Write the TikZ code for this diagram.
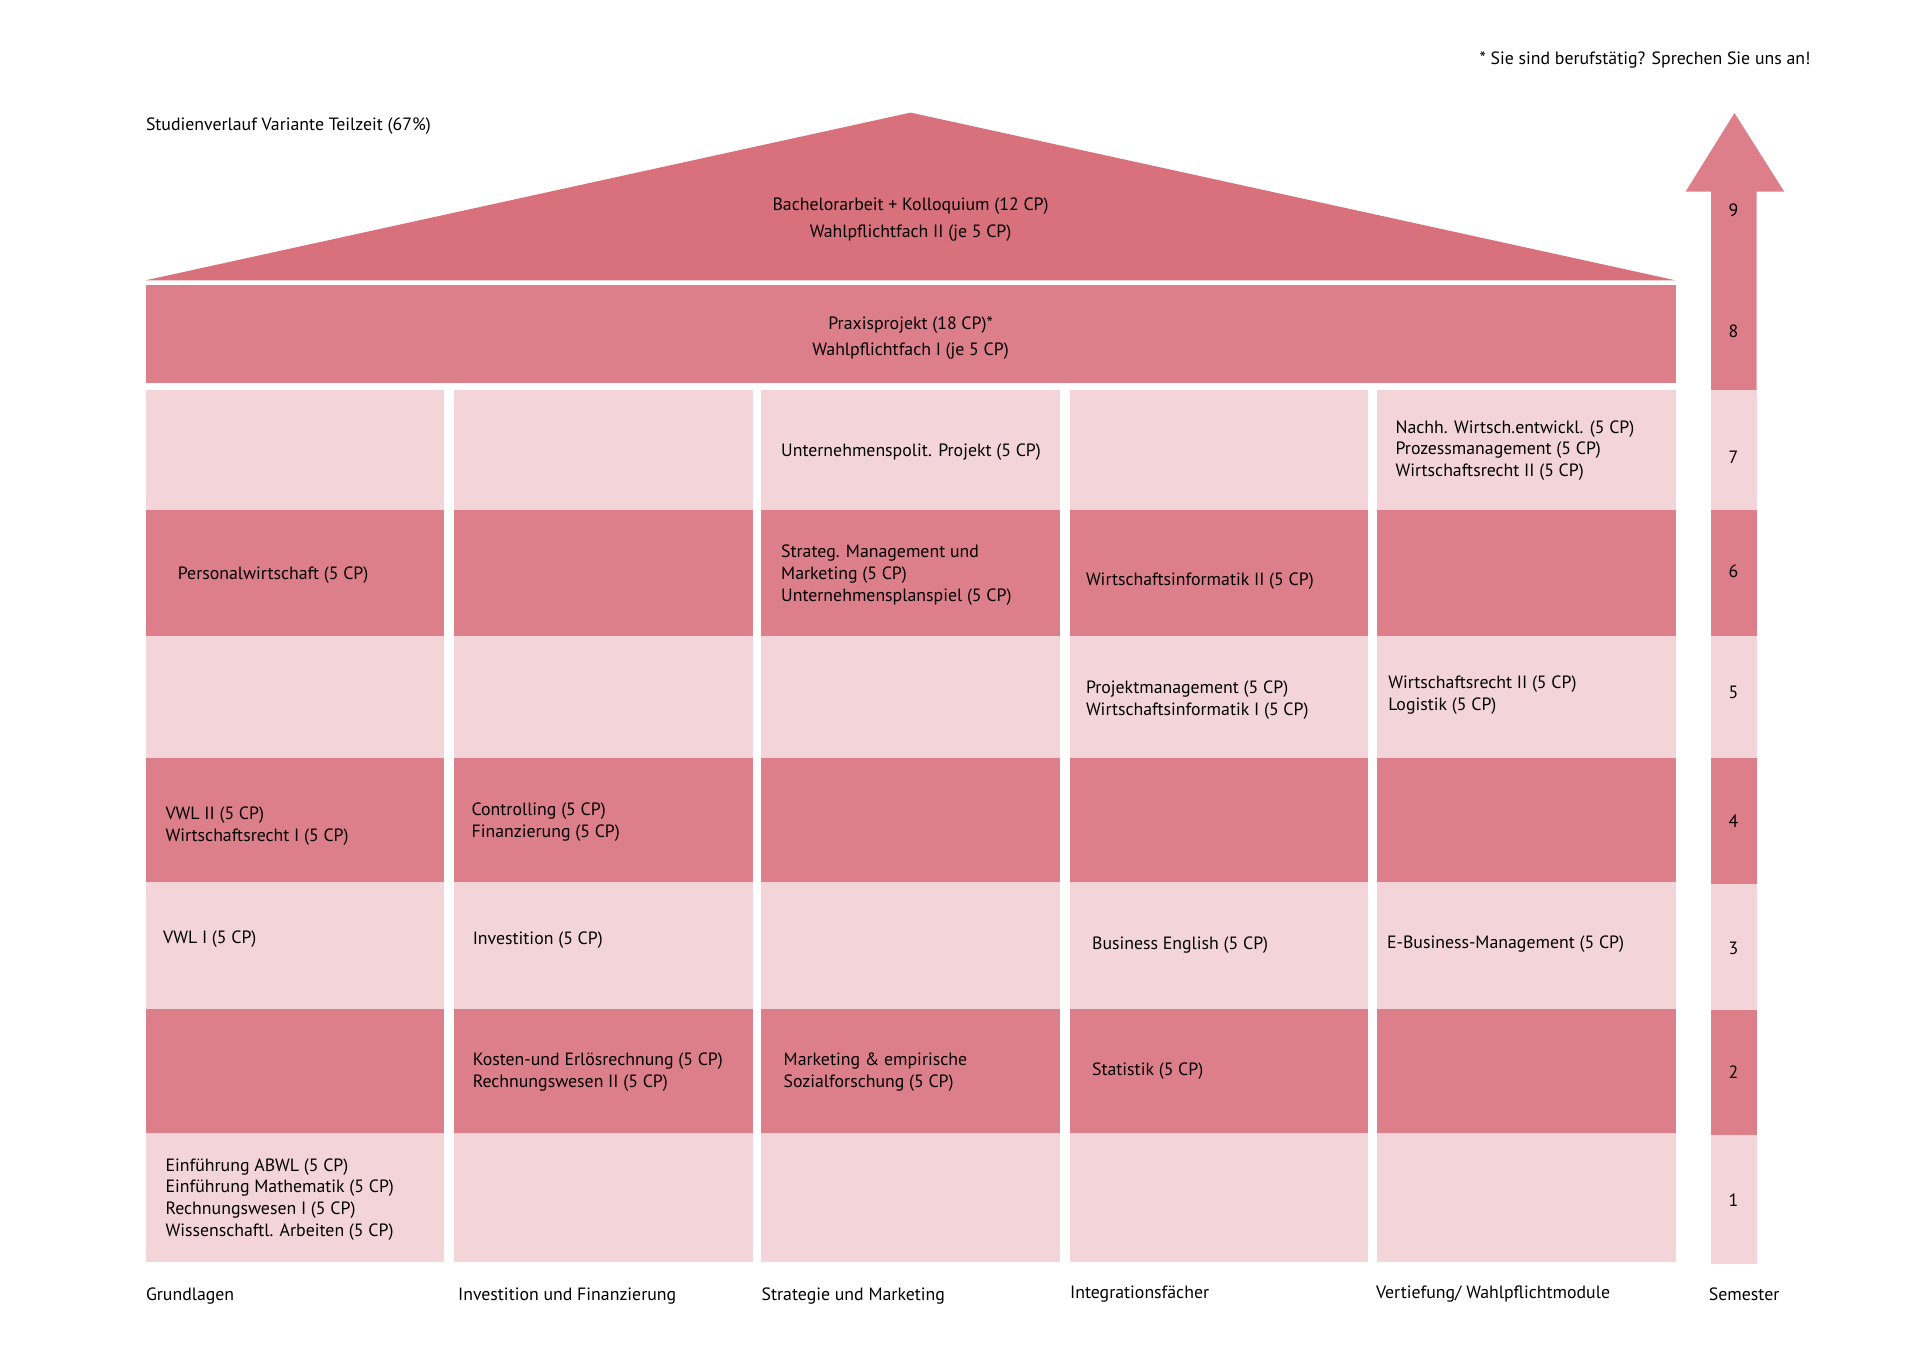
\documentclass[tikz,border=0pt]{standalone}
\usepackage{fontspec}
\setmainfont{PT Sans}
\usepackage{tikz}

\definecolor{roofred}{RGB}{217,113,125}
\definecolor{darkrose}{RGB}{221,127,138}
\definecolor{lightrose}{RGB}{243,213,217}

\begin{document}
\begin{tikzpicture}[x=0.5pt, y=-0.5pt,
    every node/.style={font=\fontsize{8.9}{10.9}\selectfont, inner sep=0pt},
    modtext/.style={anchor=west, align=left},
    darkcell/.style={fill=darkrose},
    lightcell/.style={fill=lightrose},
    semnum/.style={anchor=center}
  ]
  \useasboundingbox (0,0) rectangle (1919,1357);

  % Titel und Fussnote
  \node[anchor=west] (title) at (145.6,126) {Studienverlauf Variante Teilzeit (67\%)};
  \node[anchor=east] (note) at (1811,60) {* Sie sind berufstätig? Sprechen Sie uns an!};

  % Dach und Praxisband
  \fill[roofred] (145.6,280.3) -- (910.6,112.6) -- (1675.5,280.3) -- cycle;
  \fill[darkrose] (145.6,285.2) rectangle (1675.5,383.1);
  \node[align=center] (roof) at (910.6,219.5) {Bachelorarbeit + Kolloquium (12 CP)\\[2.5pt]Wahlpflichtfach II (je 5 CP)};
  \node[align=center] (praxis) at (910.6,338) {Praxisprojekt (18 CP)*\\[2.5pt]Wahlpflichtfach I (je 5 CP)};

  % Raster der Semester 1-7
  \foreach \xl in {145.6,454,761.3,1069.7,1376.9}{
    \foreach \yt/\yb/\st in {390.4/510.4/lightcell,510.4/636.4/darkcell,636.4/757.6/lightcell,
                             757.6/882.4/darkcell,882.4/1008.5/lightcell,1008.5/1133.3/darkcell,
                             1133.3/1261.8/lightcell}{
      \fill[\st] (\xl,\yt) rectangle ++(298.6,\yb-\yt);
    }
  }

  % Semesterpfeil
  \fill[darkrose] (1685.5,191.7) -- (1734.5,113) -- (1784.3,191.7) -- (1756.5,191.7)
    -- (1756.5,390.4) -- (1711,390.4) -- (1711,191.7) -- cycle;
  \foreach \yt/\yb/\st in {390.4/510.4/lightcell,510.4/636.4/darkcell,636.4/757.6/lightcell,
                           757.6/884/darkcell,884/1010/lightcell,1010/1135/darkcell,
                           1135/1264/lightcell}{
    \fill[\st] (1711,\yt) rectangle (1756.5,\yb);
  }
  \foreach \n/\y in {9/210.5,8/331.5,7/457.5,6/571.5,5/692.5,4/821,3/948.5,2/1072,1/1200.5}{
    \node[semnum] (sem\n) at (1733.5,\y) {\n};
  }

  % Module
  \node[modtext] (upol) at (780.8,451.7) {Unternehmenspolit. Projekt (5 CP)};
  \node[modtext] (nachh) at (1395.2,450.5) {Nachh. Wirtsch.entwickl. (5 CP)\\Prozessmanagement (5 CP)\\Wirtschaftsrecht II (5 CP)};
  \node[modtext] (pers) at (177.5,575.3) {Personalwirtschaft (5 CP)};
  \node[modtext] (strat) at (780.8,575.3) {Strateg. Management und\\Marketing (5 CP)\\Unternehmensplanspiel (5 CP)};
  \node[modtext] (winf2) at (1085.6,581.4) {Wirtschaftsinformatik II (5 CP)};
  \node[modtext] (projm) at (1085.6,700.1) {Projektmanagement (5 CP)\\Wirtschaftsinformatik I (5 CP)};
  \node[modtext] (wrecht) at (1387.9,695.2) {Wirtschaftsrecht II (5 CP)\\Logistik (5 CP)};
  \node[modtext] (vwl2) at (165.2,826.2) {VWL II (5 CP)\\Wirtschaftsrecht I (5 CP)};
  \node[modtext] (contr) at (471.2,822.5) {Controlling (5 CP)\\Finanzierung (5 CP)};
  \node[modtext] (vwl1) at (162.8,938.8) {VWL I (5 CP)};
  \node[modtext] (invest) at (472.4,940) {Investition (5 CP)};
  \node[modtext] (benglish) at (1091.7,944.9) {Business English (5 CP)};
  \node[modtext] (ebiz) at (1386.7,943.7) {E-Business-Management (5 CP)};
  \node[modtext] (kosten) at (472.4,1072.2) {Kosten-und Erlösrechnung (5 CP)\\Rechnungswesen II (5 CP)};
  \node[modtext] (mkt) at (783.3,1072.2) {Marketing \& empirische\\Sozialforschung (5 CP)};
  \node[modtext] (stat) at (1091.7,1071) {Statistik (5 CP)};
  \node[modtext] (einf) at (165.2,1199.5) {Einführung ABWL (5 CP)\\Einführung Mathematik (5 CP)\\Rechnungswesen I (5 CP)\\Wissenschaftl. Arbeiten (5 CP)};

  % Saeulen
  \node[anchor=west] (s1) at (145.6,1296) {Grundlagen};
  \node[anchor=west] (s2) at (457.7,1296) {Investition und Finanzierung};
  \node[anchor=west] (s3) at (761.3,1296) {Strategie und Marketing};
  \node[anchor=west] (s4) at (1069.7,1294.5) {Integrationsfächer};
  \node[anchor=west] (s5) at (1375.7,1294.5) {Vertiefung/ Wahlpflichtmodule};
  \node[anchor=west] (s6) at (1708.5,1294.5) {Semester};
\end{tikzpicture}
\end{document}
